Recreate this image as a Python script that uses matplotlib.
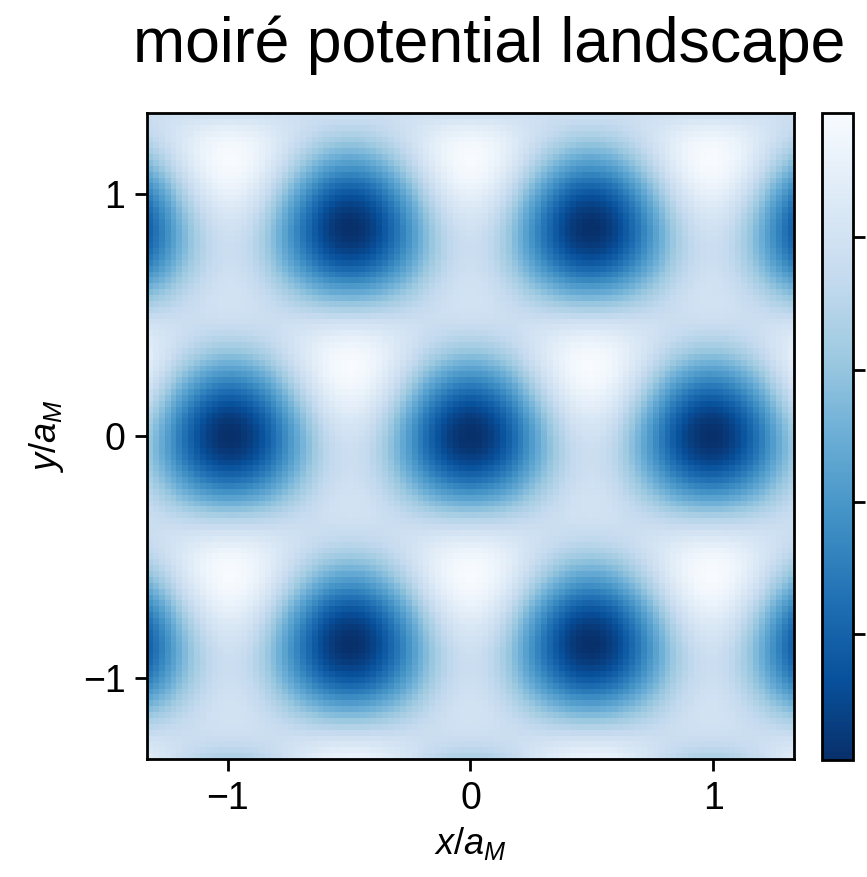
import numpy as np
import matplotlib
matplotlib.use("Agg")
from matplotlib import pyplot as plt

# moire potential parameters
a_M = 1.0          # moire lattice constant
V0 = 1.0           # amplitude of each harmonic
phi = 0.18         # phase (rad), makes the two K sublattices unequal
g_angles = [90, 210, 330]   # directions of the reciprocal vectors (deg)
limits = [-4 / 3, 4 / 3]
ticks = [-1, 0, 1]
cbar_ticks = [-2, -1, 0, 1]
n_grid = 110

plt.rcParams['font.family'] = ['Liberation Sans', 'DejaVu Sans']
plt.rcParams['mathtext.fontset'] = 'custom'
plt.rcParams['mathtext.rm'] = 'Liberation Sans'
plt.rcParams['mathtext.it'] = 'Liberation Sans:italic'


def moire_potential(X, Y):
    # V(r) = -V0 * sum_j cos(G_j . r + phi)
    g = 4 * np.pi / (np.sqrt(3) * a_M)
    V = np.zeros_like(X)
    for th in np.deg2rad(g_angles):
        V -= V0 * np.cos(g * (np.cos(th) * X + np.sin(th) * Y) + phi)
    return V


x = np.linspace(limits[0], limits[1], n_grid)
X, Y = np.meshgrid(x, x)
V = moire_potential(X, Y)

fig = plt.figure(figsize=(8.67, 8.77), dpi=100)
ax = fig.add_axes([147 / 867, 1 - 759 / 877, 647 / 867, 646 / 877])
cax = fig.add_axes([822 / 867, 1 - 760 / 877, 31 / 867, 647 / 877])

im = ax.imshow(V, origin='lower', cmap='Blues_r', interpolation='nearest',
               extent=[limits[0], limits[1], limits[0], limits[1]], aspect='auto')
ax.set_xlim(limits)
ax.set_ylim(limits)
ax.set_xticks(ticks)
ax.set_yticks(ticks)
ax.tick_params(labelsize=27, length=8.5, width=2, pad=7)
for s in ax.spines.values():
    s.set_linewidth(2)
ax.set_xlabel(r'$x/a_M$', fontsize=26, labelpad=6)
ax.set_ylabel(r'$y/a_M$', fontsize=26, labelpad=12)

cb = fig.colorbar(im, cax=cax, ticks=cbar_ticks)
cb.ax.set_yticklabels([])
cb.ax.tick_params(length=8.5, width=2)
cb.outline.set_linewidth(2)

fig.text(489 / 867, 1 - 45 / 877, 'moiré potential landscape', fontsize=45,
         ha='center', va='center')

fig.savefig('out.png', dpi=100)
